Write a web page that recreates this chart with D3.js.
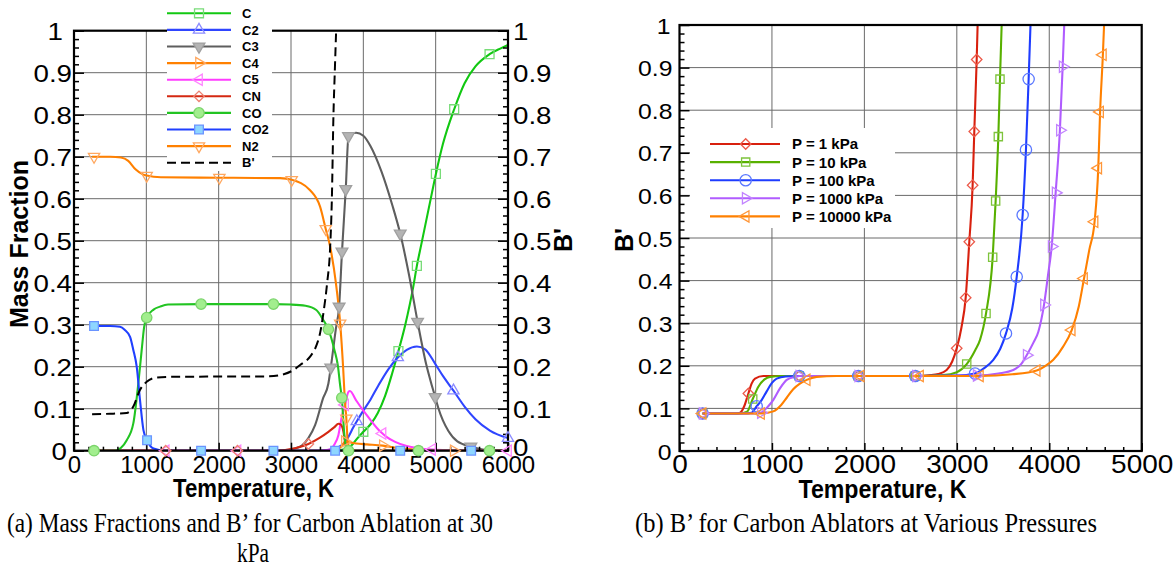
<!DOCTYPE html>
<html><head><meta charset="utf-8">
<script src="https://cdn.jsdelivr.net/npm/d3@7"></script>
<style>body{margin:0;background:#fff}svg{display:block}</style>
</head><body>
<svg id="c" width="1176" height="567"></svg>
<script>
// ---------------- DATA: panel (a) mass fractions at 30 kPa ----------------
const leftXTicks = [0,1000,2000,3000,4000,5000,6000];
const leftXLabels = ["0","1000","2000","3000","4000","5000","6000"];
const yTicks = [0,0.1,0.2,0.3,0.4,0.5,0.6,0.7,0.8,0.9,1];
const yLabels = ["0","0.1","0.2","0.3","0.4","0.5","0.6","0.7","0.8","0.9","1"];

const speciesNames = ["C","C2","C3","C4","C5","CN","CO","CO2","N2"];

const C_data = [[250,0],[3500,0],[3650,0.001],[3750,0.004],[3850,0.015],[3920,0.03],[4000,0.045],[4100,0.063],[4200,0.09],[4300,0.13],[4400,0.185],[4485,0.237],[4580,0.3],[4690,0.39],[4740,0.44],[4800,0.49],[4920,0.59],[5003,0.659],[5100,0.73],[5256,0.813],[5400,0.875],[5550,0.915],[5745,0.944],[5900,0.958],[6000,0.966]];
const C_marks = [4000,4485,4740,5003,5256,5745];

const C2_data = [[250,0],[3400,0],[3550,0.003],[3650,0.008],[3750,0.021],[3800,0.035],[3860,0.055],[3910,0.07],[3980,0.09],[4100,0.122],[4210,0.156],[4350,0.195],[4477,0.222],[4600,0.24],[4740,0.248],[4850,0.242],[5000,0.205],[5100,0.178],[5246,0.143],[5400,0.105],[5550,0.075],[5750,0.048],[6000,0.03]];
const C2_marks = [3910,4477,5246,6000];

const C3_data = [[250,0],[2900,0],[3050,0.005],[3150,0.012],[3240,0.03],[3333,0.061],[3444,0.125],[3517,0.16],[3550,0.198],[3620,0.29],[3665,0.343],[3705,0.474],[3757,0.623],[3795,0.749],[3850,0.756],[3900,0.757],[4000,0.75],[4100,0.725],[4250,0.665],[4400,0.585],[4510,0.517],[4630,0.42],[4750,0.307],[4870,0.205],[4946,0.156],[4993,0.128],[5040,0.1],[5100,0.072],[5176,0.047],[5300,0.022],[5487,0.01],[5650,0.003],[5850,0.001],[6000,0]];
const C3_marks = [3550,3665,3705,3757,3795,4510,4750,4993,5487];

const C4_data = [[250,0],[3500,0],[3650,0.004],[3720,0.015],[3745,0.022],[3800,0.02],[3900,0.017],[4050,0.015],[4270,0.012],[4450,0.007],[4700,0.003],[5000,0.001],[5250,0],[6000,0]];
const C4_marks = [3745,4270,5250];

const C5_data = [[250,0],[1268,0],[2260,0],[3400,0],[3517,0.002],[3600,0.015],[3655,0.037],[3702,0.081],[3748,0.109],[3794,0.14],[3815,0.142],[3900,0.12],[3980,0.1],[4100,0.073],[4210,0.05],[4265,0.041],[4320,0.033],[4440,0.021],[4600,0.011],[4762,0.006],[4950,0.003],[5300,0.001],[6000,0]];
const C5_marks = [1268,2260,3748,4265,4950,6000];

const CN_data = [[250,0],[1268,0],[2260,0],[2800,0],[3056,0.006],[3240,0.016],[3400,0.031],[3517,0.045],[3600,0.056],[3655,0.064],[3690,0.062],[3725,0.045],[3748,0.02],[3770,0.005],[3800,0],[6000,0]];
const CN_marks = [1268,2260,3240];

const CO_data = [[250,0],[277,0],[567,0],[650,0.007],[729,0.025],[820,0.065],[889,0.16],[936,0.24],[970,0.295],[1005,0.317],[1100,0.336],[1189,0.343],[1300,0.348],[1757,0.349],[2757,0.349],[3000,0.348],[3200,0.345],[3350,0.335],[3450,0.31],[3517,0.289],[3600,0.24],[3650,0.2],[3679,0.156],[3702,0.126],[3738,0.037],[3770,0.005],[3795,0],[4762,0],[5744,0],[6000,0]];
const CO_marks = [277,1005,1757,2757,3517,3702,3795,4762,5744];

const CO2_data = [[250,0.297],[277,0.297],[500,0.297],[636,0.295],[700,0.288],[775,0.271],[820,0.24],[867,0.2],[913,0.12],[960,0.049],[1010,0.025],[1100,0.005],[1250,0],[1757,0],[2757,0],[3610,0],[4510,0],[5491,0],[6000,0]];
const CO2_marks = [277,1010,1757,2757,3610,4510,5491];

const N2_data = [[250,0.70],[277,0.70],[500,0.70],[650,0.698],[750,0.69],[850,0.67],[950,0.658],[1005,0.655],[1200,0.651],[2010,0.65],[2849,0.649],[3010,0.645],[3264,0.62],[3402,0.581],[3480,0.528],[3541,0.486],[3620,0.4],[3680,0.303],[3720,0.2],[3745,0.12],[3765,0.077],[3785,0.02],[3820,0.005],[3900,0],[6000,0]];
const N2_marks = [277,1005,2010,3010,3480,3680,3765];

const Bp_data = [[250,0.087],[500,0.088],[729,0.09],[820,0.105],[913,0.145],[1005,0.164],[1143,0.174],[1400,0.176],[2700,0.177],[2900,0.182],[3033,0.192],[3126,0.204],[3264,0.224],[3350,0.25],[3402,0.28],[3450,0.33],[3500,0.4],[3540,0.48],[3565,0.6],[3587,0.8],[3605,0.9],[3624,1.0]];

// ---------------- DATA: panel (b) B' at various pressures ----------------
const rightXTicks = [0,1000,2000,3000,4000,5000];
const rightXLabels = ["0","1000","2000","3000","4000","5000"];
const pressureNames = ["P = 1 kPa","P = 10 kPa","P = 100 kPa","P = 1000 kPa","P = 10000 kPa"];

const P1_data = [[250,0.088],[600,0.088],[656,0.09],[700,0.105],[745,0.135],[780,0.158],[817,0.17],[907,0.176],[1296,0.176],[1934,0.176],[2550,0.176],[2700,0.178],[2800,0.181],[2890,0.19],[2950,0.21],[2999,0.241],[3050,0.29],[3096,0.36],[3135,0.491],[3171,0.624],[3189,0.75],[3215,0.919],[3225,1.0]];
const P1_marks = [250,745,1296,1934,2550,2999,3096,3135,3171,3189,3215];

const P10_data = [[250,0.088],[650,0.088],[730,0.092],[792,0.122],[853,0.151],[920,0.168],[979,0.174],[1100,0.176],[1296,0.176],[1934,0.176],[2550,0.176],[2850,0.178],[3000,0.185],[3107,0.204],[3200,0.237],[3251,0.261],[3316,0.323],[3388,0.455],[3420,0.587],[3449,0.738],[3467,0.873],[3485,1.0]];
const P10_marks = [250,792,1296,1934,2550,3107,3316,3388,3420,3449,3467];

const P100_data = [[250,0.088],[700,0.088],[780,0.09],[835,0.105],[890,0.12],[943,0.14],[1000,0.16],[1051,0.17],[1150,0.175],[1296,0.176],[1934,0.176],[2550,0.176],[3000,0.177],[3197,0.182],[3300,0.195],[3395,0.214],[3470,0.24],[3532,0.276],[3600,0.335],[3648,0.409],[3712,0.554],[3748,0.707],[3777,0.873],[3797,1.0]];
const P100_marks = [250,835,1296,1934,2550,3197,3532,3648,3712,3748,3777];

const P1000_data = [[250,0.088],[800,0.088],[880,0.09],[960,0.105],[1015,0.12],[1090,0.148],[1160,0.167],[1250,0.174],[1296,0.176],[1934,0.176],[2560,0.176],[3215,0.177],[3450,0.182],[3611,0.19],[3700,0.205],[3756,0.225],[3830,0.255],[3882,0.28],[3943,0.343],[3985,0.41],[4026,0.48],[4069,0.606],[4115,0.753],[4145,0.902],[4162,1.0]];
const P1000_marks = [250,880,1296,1934,2560,3215,3756,3943,4026,4069,4115,4145];

const P10000_data = [[250,0.088],[882,0.088],[950,0.09],[1015,0.093],[1100,0.108],[1160,0.125],[1230,0.145],[1303,0.158],[1376,0.167],[1484,0.174],[1700,0.176],[1960,0.176],[2602,0.176],[3250,0.176],[3600,0.18],[3864,0.189],[3960,0.2],[4044,0.214],[4150,0.245],[4243,0.284],[4320,0.34],[4376,0.405],[4433,0.472],[4490,0.538],[4530,0.664],[4550,0.796],[4580,0.93],[4593,1.0]];
const P10000_marks = [250,882,1376,1960,2602,3250,3864,4243,4376,4490,4530,4550,4580];

// ---------------- DRAWING ----------------
const svg = d3.select("#c");
const SANS = "'Liberation Sans', Arial, Helvetica, sans-serif";
const SERIF = "'Liberation Serif', 'Times New Roman', serif";

const SHAPES = {
  square:{t:d3.symbolSquare,r:0}, diamond:{t:d3.symbolSquare,r:45},
  triUp:{t:d3.symbolTriangle,r:0}, triDown:{t:d3.symbolTriangle,r:180},
  triRight:{t:d3.symbolTriangle,r:90}, triLeft:{t:d3.symbolTriangle,r:-90},
  circle:{t:d3.symbolCircle,r:0}
};
function marker(g, shape, size, x, y, fill, stroke) {
  const s = SHAPES[shape];
  g.append("path").attr("d", d3.symbol(s.t, size)())
    .attr("transform", `translate(${x},${y}) rotate(${s.r})`)
    .attr("fill", fill).attr("stroke", stroke).attr("stroke-width", 1.3);
}

function panel(cfg) {
  const {x, y, xTicks, xLabels, minorX, minorY, idx} = cfg;
  const [x0, x1] = x.range(), [y0, y1] = y.range();
  const root = svg.append("g");
  // grid
  const grid = root.append("g").attr("stroke", "#6a6a6a").attr("stroke-width", 1);
  grid.selectAll("line.v").data(xTicks.filter(d => d > x.domain()[0] && d < x.domain()[1]))
    .join("line").attr("x1", d => x(d)).attr("x2", d => x(d)).attr("y1", y0).attr("y2", y1);
  grid.selectAll("line.h").data(yTicks.filter(d => d > 0 && d < 1))
    .join("line").attr("x1", x0).attr("x2", x1).attr("y1", d => y(d)).attr("y2", d => y(d));
  // clip
  root.append("clipPath").attr("id", "clip" + idx).append("rect")
    .attr("x", x0).attr("y", y1).attr("width", x1 - x0).attr("height", y0 - y1);
  const lines = root.append("g").attr("clip-path", `url(#clip${idx})`);
  const lineGen = d3.line().x(d => x(d[0])).y(d => y(d[1])).curve(d3.curveMonotoneX);
  cfg.series.forEach(s => {
    lines.append("path").datum(s.data).attr("d", lineGen).attr("fill", "none")
      .attr("stroke", s.color).attr("stroke-width", s.width || 2.1)
      .attr("stroke-dasharray", s.dash || null);
  });
  // axes
  const styleText = (g, size) => g.attr("font-family", SANS).attr("font-size", size).attr("fill", "#000");
  const ticksStyle = g => { g.select(".domain").remove(); g.selectAll("line").attr("stroke", "#000").attr("stroke-width", 1.5); };

  root.append("g").attr("transform", `translate(${x0},0)`)
    .call(d3.axisLeft(y).tickValues(minorY).tickSize(-5).tickFormat("")).call(ticksStyle);
  const ly = root.append("g").attr("transform", `translate(${x0},0)`)
    .call(d3.axisLeft(y).tickValues(yTicks).tickSize(-10).tickFormat(d => yLabels[yTicks.indexOf(d)]))
    .call(ticksStyle);
  styleText(ly, cfg.yFont);
  ly.selectAll("text").attr("x", 0).attr("dy", "0.36em")
    .attr("transform", d => `translate(${-(cfg.intPad && (d === 0 || d === 1) ? cfg.intPad[d] : cfg.yPad)},0) scale(${cfg.ySx},1)`);

  root.append("g").attr("transform", `translate(0,${y0})`)
    .call(d3.axisBottom(x).tickValues(minorX).tickSize(-4).tickFormat("")).call(ticksStyle);
  const bx = root.append("g").attr("transform", `translate(0,${y0})`)
    .call(d3.axisBottom(x).tickValues(xTicks).tickSize(-8).tickFormat(d => xLabels[xTicks.indexOf(d)]))
    .call(ticksStyle);
  styleText(bx, cfg.xFont);
  bx.selectAll("text").attr("y", 0).attr("dy", 0)
    .attr("transform", `translate(0,${cfg.xBase}) scale(${cfg.xSx},1)`);

  if (cfg.right) {
    root.append("g").attr("transform", `translate(${x1},0)`)
      .call(d3.axisRight(y).tickValues(minorY).tickSize(-5).tickFormat("")).call(ticksStyle);
    const ry = root.append("g").attr("transform", `translate(${x1},0)`)
      .call(d3.axisRight(y).tickValues(yTicks).tickSize(-10).tickFormat(d => yLabels[yTicks.indexOf(d)]))
      .call(ticksStyle);
    styleText(ry, cfg.yFont);
    ry.selectAll("text").attr("x", 0).attr("dy", d => d === 0 ? "0.2em" : "0.36em")
      .attr("transform", `translate(5,0) scale(${cfg.ySx},1)`);
  }
  // frame
  root.append("rect").attr("x", x0).attr("y", y1).attr("width", x1 - x0).attr("height", y0 - y1)
    .attr("fill", "none").attr("stroke", "#000").attr("stroke-width", 2.2);
  // markers
  const mg = root.append("g");
  cfg.series.forEach(s => {
    if (!s.marks) return;
    s.marks.forEach(t => {
      const p = s.data.find(d => d[0] === t);
      if (p) marker(mg, s.shape, s.size, x(p[0]), y(p[1]), s.mfill, s.mstroke);
    });
  });
  // legend
  const L = cfg.legend;
  const lg = root.append("g");
  lg.append("rect").attr("x", L.x).attr("y", L.y).attr("width", L.w).attr("height", L.h).attr("fill", "#fff");
  cfg.series.forEach((s, i) => {
    const ry = L.row0 + i * L.dy;
    lg.append("line").attr("x1", L.lx0).attr("x2", L.lx1).attr("y1", ry).attr("y2", ry)
      .attr("stroke", s.color).attr("stroke-width", s.width || 2.1).attr("stroke-dasharray", s.dash || null);
    if (s.shape) marker(lg, s.shape, s.size, L.mx, ry, s.mfill, s.mstroke);
    lg.append("text").attr("x", L.tx).attr("y", ry).attr("dy", "0.36em")
      .attr("font-family", SANS).attr("font-weight", "bold").attr("font-size", L.font)
      .attr("fill", "#000").text(s.name);
  });
  return root;
}

// ---- panel (a)
const xL = d3.scaleLinear().domain([0, 6000]).range([74, 508]);
const yL = d3.scaleLinear().domain([0, 1]).range([450.7, 30.7]);
const minorXL = d3.range(0, 6001, 200).filter(d => d % 1000 !== 0);
const minorY = d3.range(0, 50).map(i => i * 0.02).filter((d, i) => i % 5 !== 0);

const leftSeries = [
  {name:speciesNames[0], data:C_data, marks:C_marks, color:"#12c812", shape:"square", size:80, mfill:"none", mstroke:"#78dc78"},
  {name:speciesNames[1], data:C2_data, marks:C2_marks, color:"#2f45ff", shape:"triUp", size:55, mfill:"none", mstroke:"#8c8cff"},
  {name:speciesNames[2], data:C3_data, marks:C3_marks, color:"#5e5e5e", shape:"triDown", size:60, mfill:"#b4b4b4", mstroke:"#a0a0a0"},
  {name:speciesNames[3], data:C4_data, marks:C4_marks, color:"#ff8000", shape:"triRight", size:55, mfill:"none", mstroke:"#ffa860"},
  {name:speciesNames[4], data:C5_data, marks:C5_marks, color:"#ff3cff", shape:"triLeft", size:55, mfill:"none", mstroke:"#ff84ff"},
  {name:speciesNames[5], data:CN_data, marks:CN_marks, color:"#d42812", shape:"diamond", size:55, mfill:"none", mstroke:"#ee8070"},
  {name:speciesNames[6], data:CO_data, marks:CO_marks, color:"#22c422", shape:"circle", size:85, mfill:"#a2ee8e", mstroke:"#7ad46a"},
  {name:speciesNames[7], data:CO2_data, marks:CO2_marks, color:"#2040ff", shape:"square", size:75, mfill:"#8ed6ff", mstroke:"#6a94ff"},
  {name:speciesNames[8], data:N2_data, marks:N2_marks, color:"#ff8000", shape:"triDown", size:55, mfill:"none", mstroke:"#ffa860"},
  {name:"B'", data:Bp_data, color:"#000", dash:"9,5", width:2}
];

panel({
  idx:0, x:xL, y:yL, xTicks:leftXTicks, xLabels:leftXLabels, minorX:minorXL, minorY,
  yFont:23.7, ySx:1.17, yPad:2, intPad:{0:7, 1:11}, xFont:24.5, xSx:0.98, xBase:22.5, right:true,
  series:leftSeries,
  legend:{x:167, y:0, w:105, h:171, row0:13.3, dy:16.6, lx0:167, lx1:231, mx:199, tx:242, font:13}
});

// ---- panel (b)
const xR = d3.scaleLinear().domain([0, 5000]).range([679.5, 1141.7]);
const yR = d3.scaleLinear().domain([0, 1]).range([451, 25]);
const minorXR = d3.range(0, 5001, 200).filter(d => d % 1000 !== 0);

const rightSeries = [
  {name:pressureNames[0], data:P1_data, marks:P1_marks, color:"#d8200e", shape:"diamond", size:55, mfill:"none", mstroke:"#ec5a4a"},
  {name:pressureNames[1], data:P10_data, marks:P10_marks, color:"#58b000", shape:"square", size:68, mfill:"none", mstroke:"#7ec43c"},
  {name:pressureNames[2], data:P100_data, marks:P100_marks, color:"#1e3cff", shape:"circle", size:100, mfill:"none", mstroke:"#5a78ff"},
  {name:pressureNames[3], data:P1000_data, marks:P1000_marks, color:"#b05cff", shape:"triRight", size:55, mfill:"none", mstroke:"#c284ff"},
  {name:pressureNames[4], data:P10000_data, marks:P10000_marks, color:"#ff8000", shape:"triLeft", size:55, mfill:"none", mstroke:"#ff9638"}
];

panel({
  idx:1, x:xR, y:yR, xTicks:rightXTicks, xLabels:rightXLabels, minorX:minorXR, minorY,
  yFont:22.5, ySx:1.1, yPad:7, intPad:{0:8, 1:9}, xFont:25, xSx:1.12, xBase:22, right:false,
  series:rightSeries,
  legend:{x:690, y:128, w:205, h:100, row0:144, dy:18.1, lx0:710, lx1:780, mx:745.7, tx:792, font:15}
});

// ---- axis titles & captions
function title(x, y, txt, size, rot, len) {
  const t = svg.append("text").attr("transform", `translate(${x},${y}) rotate(${rot})`)
    .attr("text-anchor", "middle").attr("font-family", SANS).attr("font-weight", "bold")
    .attr("font-size", size).attr("fill", "#000").text(txt);
  if (len) t.attr("textLength", len).attr("lengthAdjust", "spacingAndGlyphs");
}
title(28, 244, "Mass Fraction", 25, -90, 168);
title(572, 240, "B'", 25, -90, null);
title(633, 240, "B'", 25, -90, null);
title(253.5, 496.5, "Temperature, K", 25, 0, 161);
title(882.5, 497.5, "Temperature, K", 25, 0, 168);

function caption(x, y, txt, len) {
  svg.append("text").attr("x", x).attr("y", y).attr("text-anchor", "middle")
    .attr("font-family", SERIF).attr("font-size", 27).attr("fill", "#000")
    .attr("textLength", len).attr("lengthAdjust", "spacingAndGlyphs").text(txt);
}
caption(250, 531.7, "(a) Mass Fractions and B\u2019 for Carbon Ablation at 30", 486);
caption(253, 561.7, "kPa", 32);
caption(866, 531.7, "(b) B\u2019 for Carbon Ablators at Various Pressures", 462);
</script>
</body></html>
